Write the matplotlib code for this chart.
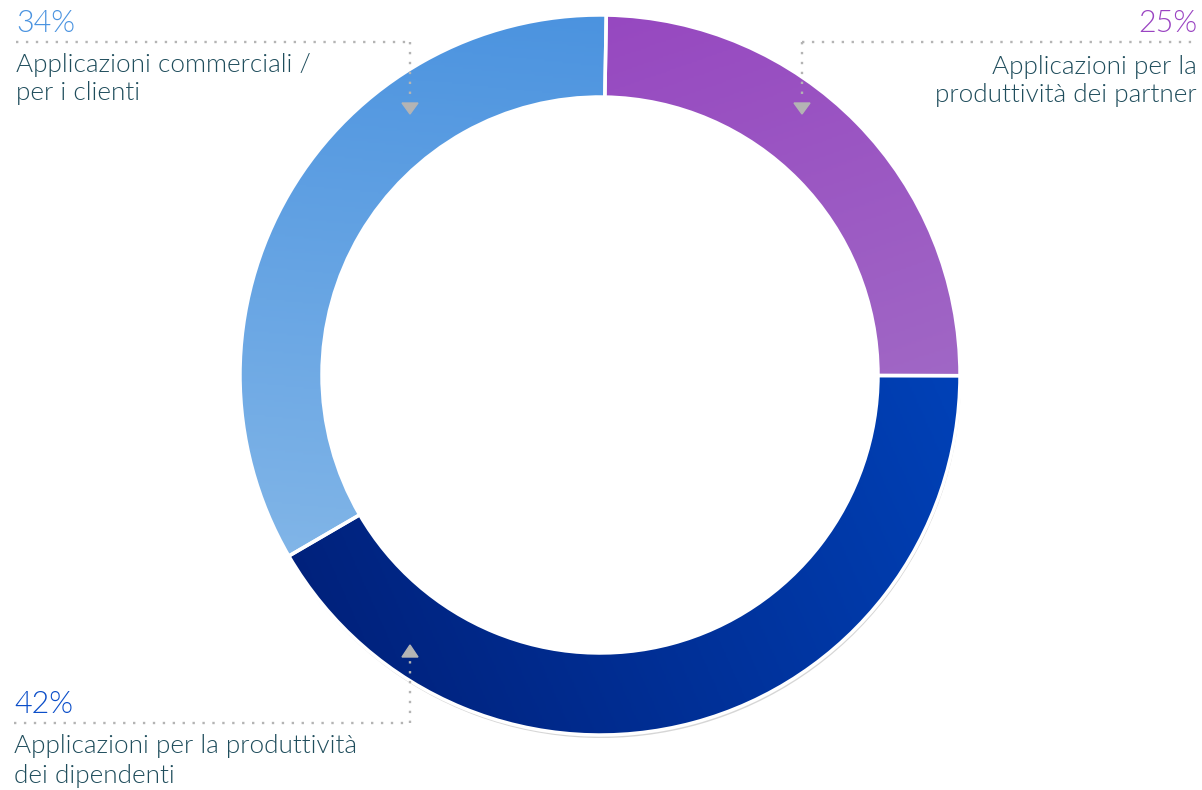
import numpy as np
import matplotlib.pyplot as plt
from matplotlib.patches import Wedge, Polygon
from matplotlib.colors import LinearSegmentedColormap

# share of each app category (clockwise from the top)
categories = [['Applicazioni per la', 'produttività dei partner'],
              ['Applicazioni per la produttività', 'dei dipendenti'],
              ['Applicazioni commerciali /', 'per i clienti']]
values = [25, 42, 34]
pct_labels = ['25%', '42%', '34%']
pct_colors = ['#9a44c2', '#0b4ec9', '#4a93e0']
# gradient endpoints and direction for each segment
grad_colors = [('#9440bf', '#a77ec9'), ('#001c72', '#0048c4'), ('#4891df', '#92c0ea')]
grad_dirs = [(0.35, 1.0), (1.0, -0.45), (-0.1, 1.0)]

W, H = 1202, 790
cx, cy = 600, 375
r_out, width = 360, 82
start = 89

fig = plt.figure(figsize=(W / 100, H / 100), dpi=100)
ax = fig.add_axes([0, 0, 1, 1])
ax.set_xlim(0, W)
ax.set_ylim(H, 0)
ax.set_aspect('equal')
ax.axis('off')

total = sum(values)
theta = start
xs = np.linspace(cx - r_out, cx + r_out, 400)
ys = np.linspace(cy - r_out, cy + r_out, 400)
X, Y = np.meshgrid(xs, ys)
for i, v in enumerate(values):
    sweep = v / total * 360
    t1, t2 = theta - sweep, theta
    # y axis is inverted, so mirror the angles
    a1, a2 = -t2, -t1
    if i == 1:
        sh = Wedge((cx + 1, cy + 3), r_out, a1 + 1, a2 - 3, width=width,
                   facecolor='#d6d6d6', edgecolor='none', zorder=1)
        ax.add_patch(sh)
    w = Wedge((cx, cy), r_out, a1, a2, width=width,
              facecolor='none', edgecolor='white', linewidth=2.5, zorder=3)
    ax.add_patch(w)
    dx, dy = grad_dirs[i]
    proj = (X - cx) * dx + (Y - cy) * dy
    proj = (proj - proj.min()) / (proj.max() - proj.min())
    cmap = LinearSegmentedColormap.from_list('g%d' % i, grad_colors[i])
    im = ax.imshow(proj, cmap=cmap, extent=(xs[0], xs[-1], ys[-1], ys[0]),
                   origin='upper', zorder=2, interpolation='bilinear')
    clip = Wedge((cx, cy), r_out, a1, a2, width=width, transform=ax.transData)
    im.set_clip_path(clip)
    theta = t1

dot = dict(color='#b4b4b4', linestyle=(0, (1, 3.2)), linewidth=1.7, zorder=4)
tri = '#b4b4b4'

# leader for 34%
ax.plot([16, 410], [42, 42], **dot)
ax.plot([410, 410], [42, 100], **dot)
ax.add_patch(Polygon([[402, 103], [418, 103], [410, 114]], closed=True, color=tri, zorder=5))
# leader for 25%
ax.plot([802, 1198], [42, 42], **dot)
ax.plot([802, 802], [42, 100], **dot)
ax.add_patch(Polygon([[794, 103], [810, 103], [802, 114]], closed=True, color=tri, zorder=5))
# leader for 42%
ax.plot([14, 410], [723, 723], **dot)
ax.plot([410, 410], [723, 660], **dot)
ax.add_patch(Polygon([[402, 657], [418, 657], [410, 645]], closed=True, color=tri, zorder=5))

fam = ['Lato', 'DejaVu Sans']
txt = '#1f4d5c'


def label(x, y, s, color, ha, fs=18.8):
    ax.text(x, y, s, color=color, fontsize=fs, ha=ha, va='baseline',
            family=fam, fontweight=300)


label(1197, 32, pct_labels[0], pct_colors[0], 'right', 22)
label(1197, 74, categories[0][0], txt, 'right')
label(1197, 102, categories[0][1], txt, 'right')

label(16, 32, pct_labels[2], pct_colors[2], 'left', 22)
label(16, 72, categories[2][0], txt, 'left')
label(16, 100, categories[2][1], txt, 'left')

label(14, 713, pct_labels[1], pct_colors[1], 'left', 22)
label(14, 753, categories[1][0], txt, 'left')
label(14, 783, categories[1][1], txt, 'left')

fig.savefig('out.png', dpi=100)
